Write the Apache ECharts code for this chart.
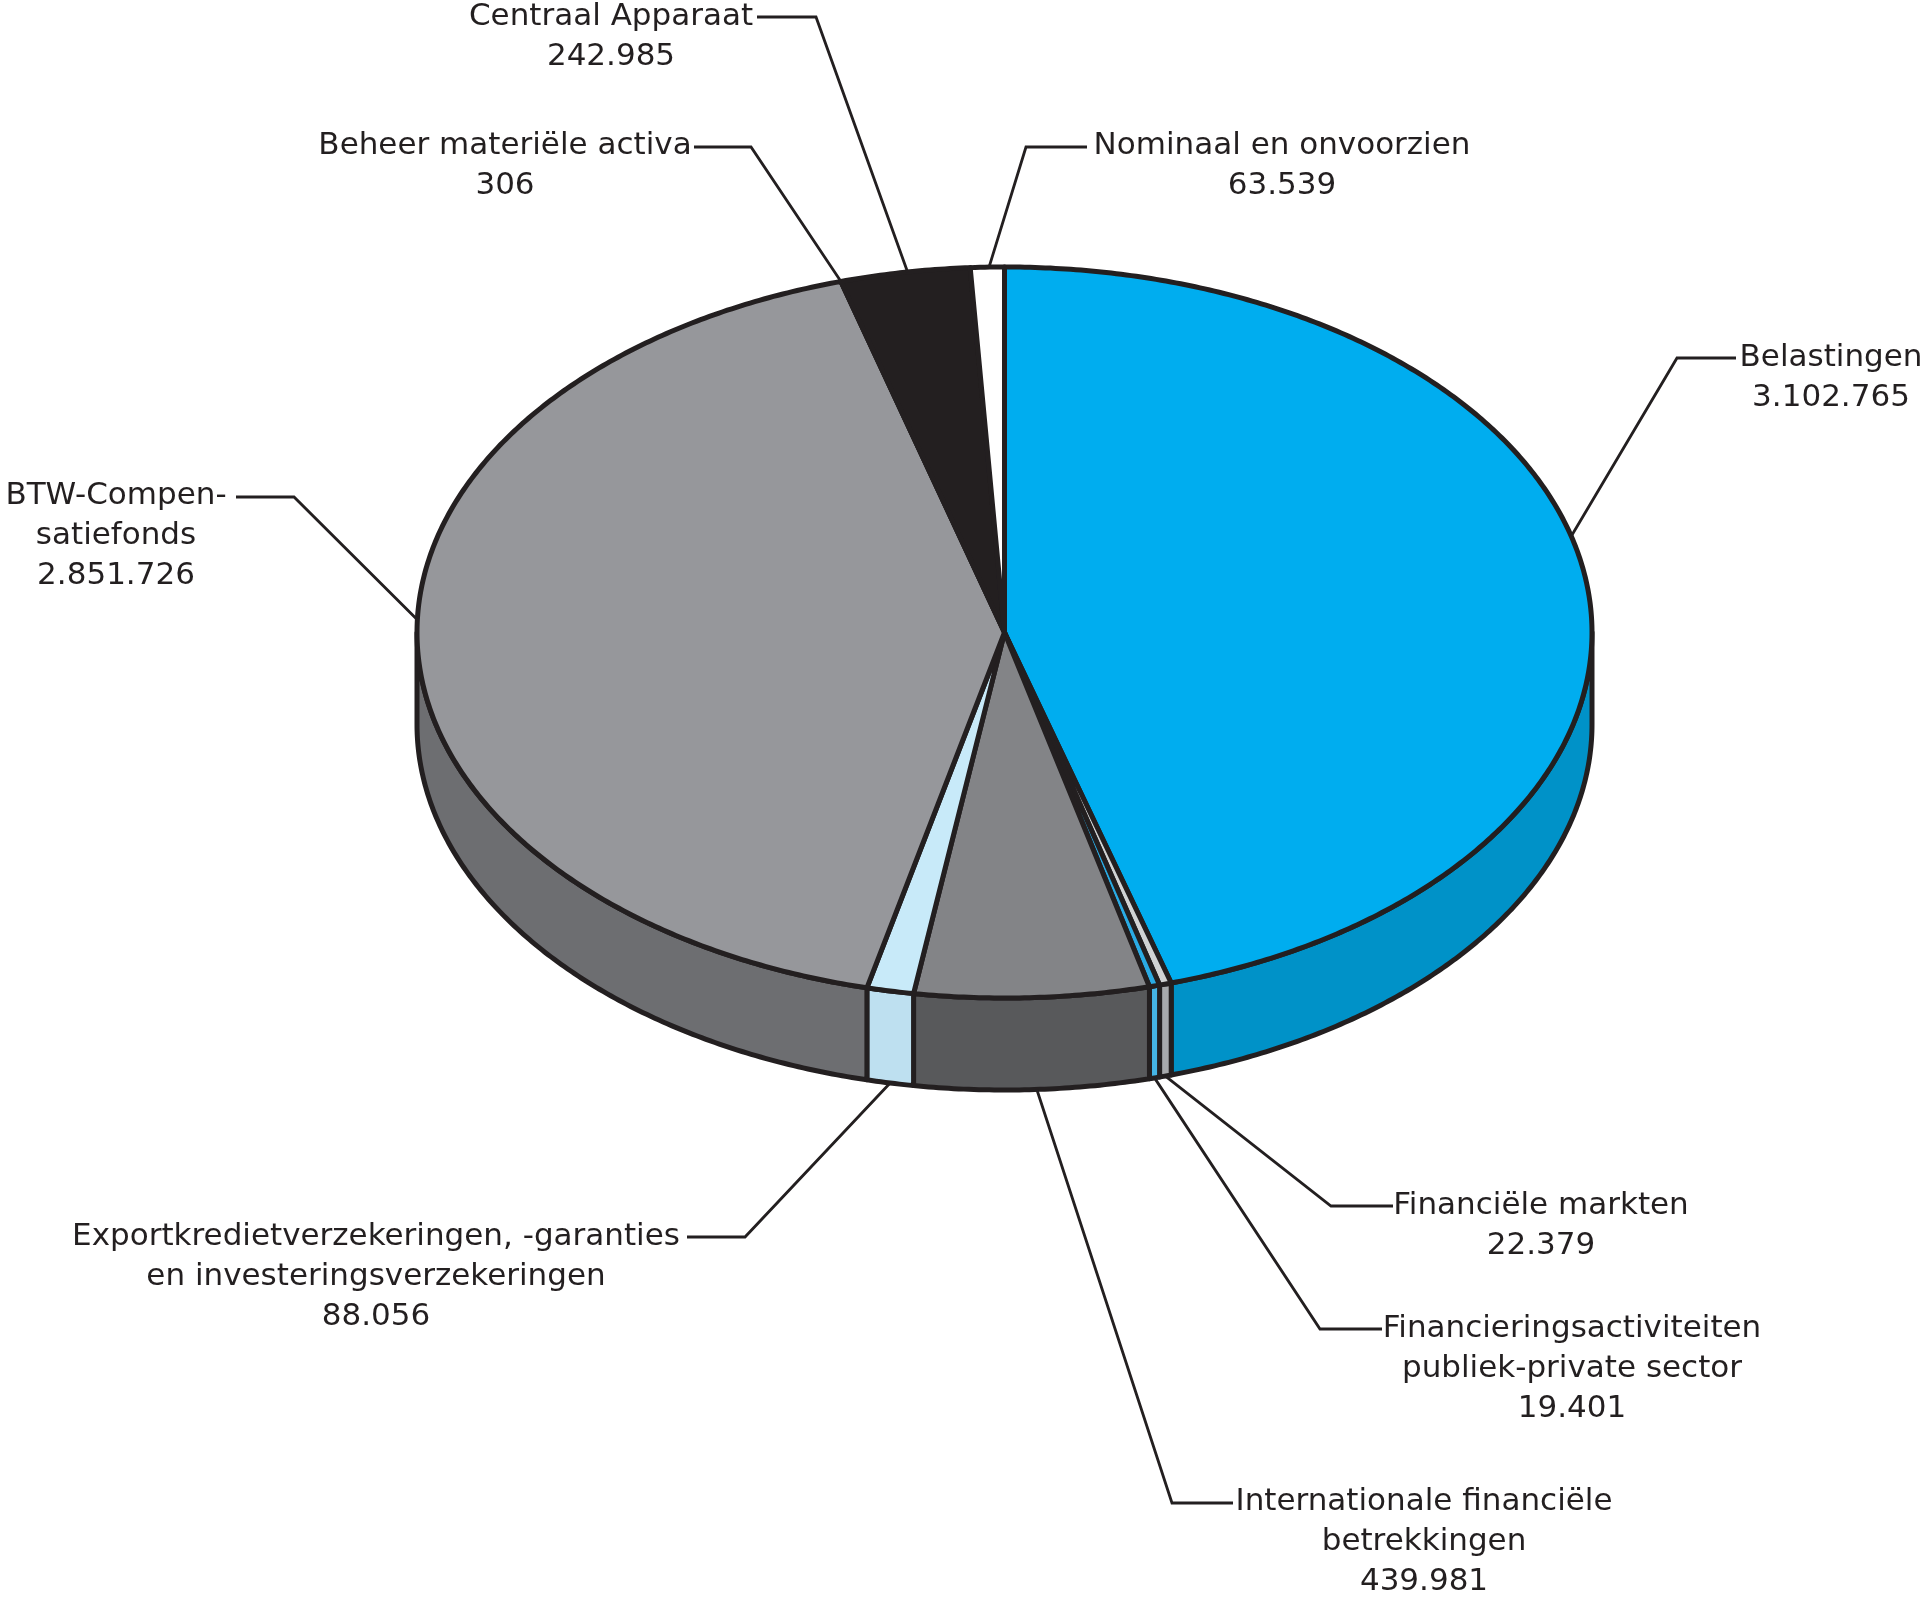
<!DOCTYPE html>
<html><head><meta charset="utf-8">
<script src="https://cdn.jsdelivr.net/npm/echarts@6/dist/echarts.min.js"></script>
<style>html,body{margin:0;padding:0;background:#fff}#c{width:1924px;height:1601px}</style>
</head><body><div id="c"></div>
<script>
// ---- data (clockwise from 12 o'clock) ----
const names = [
  'Belastingen',
  'Financiële markten',
  'Financieringsactiviteiten\npubliek-private sector',
  'Internationale financiële\nbetrekkingen',
  'Exportkredietverzekeringen, -garanties\nen investeringsverzekeringen',
  'BTW-Compen-\nsatiefonds',
  'Beheer materiële activa',
  'Centraal Apparaat',
  'Nominaal en onvoorzien'
];
const values = [3102765, 22379, 19401, 439981, 88056, 2851726, 306, 242985, 63539];

// ---- styles ----
const topColors  = ['#00adef', '#d1d3d4', '#2aabe4', '#838487', '#c8eaf9', '#96979b', '#58595b', '#231f20', '#ffffff'];
const sideColors = ['#0092c8', '#a7a9ac', '#45b4e4', '#58595b', '#bee0f0', '#6d6e71', '#4a4a4c', '#231f20', '#e6e6e6'];

// ---- label layout (pixels) ----
const labelCenterX = [1831, 1541, 1572, 1424, 376, 116, 505, 611, 1282];
const labelFirstY  = [358, 1206, 1329, 1502, 1237, 496, 146, 17, 146];
const leaderTextPt = [[1736,358],[1393,1206],[1382,1329],[1233,1503],[687,1237],[236,497],[694,147],[757,17],[1087,147]];
const leaderElbow  = [[1677,358],[1331,1206],[1320,1329],[1172,1503],[745,1237],[294,497],[751,147],[816,17],[1026,147]];
const anchorFrac   = [0.457, 0.5, 0.5, 0.48, 0.5, 0.522, 0.5, 0.52, 0.55];
const anchorOnBottom = [false, true, true, true, true, false, false, false, false];

const INK = '#231f20';
const FONT = '31px "DejaVu Sans"';
const LINE_H = 40;
const DEPTH_U = 92 / 365.5;   // side depth in y-axis units

const total = values.reduce((a, b) => a + b, 0);
const startA = [], endA = [];
let acc = 0;
values.forEach((v, i) => { startA[i] = acc / total * 360; acc += v; endA[i] = acc / total * 360; });

function fmt(v) { return String(v).replace(/\B(?=(\d{3})+(?!\d))/g, '.'); }

function P(api, deg, bottom) {
  const r = deg * Math.PI / 180;
  return api.coord([Math.sin(r), Math.cos(r) - (bottom ? DEPTH_U : 0)]);
}

function renderSide(params, api) {
  const i = api.value(0);
  const t1 = Math.max(startA[i], 90), t2 = Math.min(endA[i], 270);
  if (t2 <= t1) return { type: 'group', children: [] };
  const n = Math.max(2, Math.ceil((t2 - t1) / 0.5));
  const pts = [];
  for (let k = 0; k <= n; k++) pts.push(P(api, t1 + (t2 - t1) * k / n, false));
  for (let k = n; k >= 0; k--) pts.push(P(api, t1 + (t2 - t1) * k / n, true));
  return { type: 'polygon', shape: { points: pts },
    style: { fill: sideColors[i], stroke: INK, lineWidth: 5, lineJoin: 'round' } };
}

function renderTop(params, api) {
  const i = api.value(0);
  const t1 = startA[i], t2 = endA[i];
  const n = Math.max(2, Math.ceil((t2 - t1) / 0.5));
  const pts = [api.coord([0, 0])];
  for (let k = 0; k <= n; k++) pts.push(P(api, t1 + (t2 - t1) * k / n, false));
  return { type: 'polygon', shape: { points: pts },
    style: { fill: topColors[i], stroke: INK, lineWidth: 5, lineJoin: 'round' } };
}

function renderLabel(params, api) {
  const i = api.value(0);
  const ang = startA[i] + (endA[i] - startA[i]) * anchorFrac[i];
  const anchor = P(api, ang, anchorOnBottom[i]);
  return { type: 'group', children: [
    { type: 'polyline', shape: { points: [leaderTextPt[i], leaderElbow[i], anchor] },
      style: { stroke: INK, lineWidth: 2.8, fill: null } },
    { type: 'text', style: {
        text: names[i] + '\n' + fmt(values[i]),
        x: labelCenterX[i], y: labelFirstY[i] - LINE_H / 2,
        align: 'center', verticalAlign: 'top',
        font: FONT, lineHeight: LINE_H, fill: INK } }
  ] };
}

const seriesData = values.map((v, i) => [i, v]);
const chart = echarts.init(document.getElementById('c'), null, { renderer: 'canvas' });
chart.setOption({
  animation: false,
  backgroundColor: '#ffffff',
  grid: { left: 417, top: 267, width: 1175, height: 731, show: false },
  xAxis: { type: 'value', min: -1, max: 1, show: false },
  yAxis: { type: 'value', min: -1, max: 1, show: false },
  series: [
    { type: 'custom', name: 'side', coordinateSystem: 'cartesian2d', clip: false, silent: true,
      encode: { x: 0, y: 1 }, data: seriesData, renderItem: renderSide, z: 1 },
    { type: 'custom', name: 'top', coordinateSystem: 'cartesian2d', clip: false, silent: true,
      encode: { x: 0, y: 1 }, data: seriesData, renderItem: renderTop, z: 2 },
    { type: 'custom', name: 'labels', coordinateSystem: 'cartesian2d', clip: false, silent: true,
      encode: { x: 0, y: 1 }, data: seriesData, renderItem: renderLabel, z: 3 }
  ]
});
</script></body></html>
